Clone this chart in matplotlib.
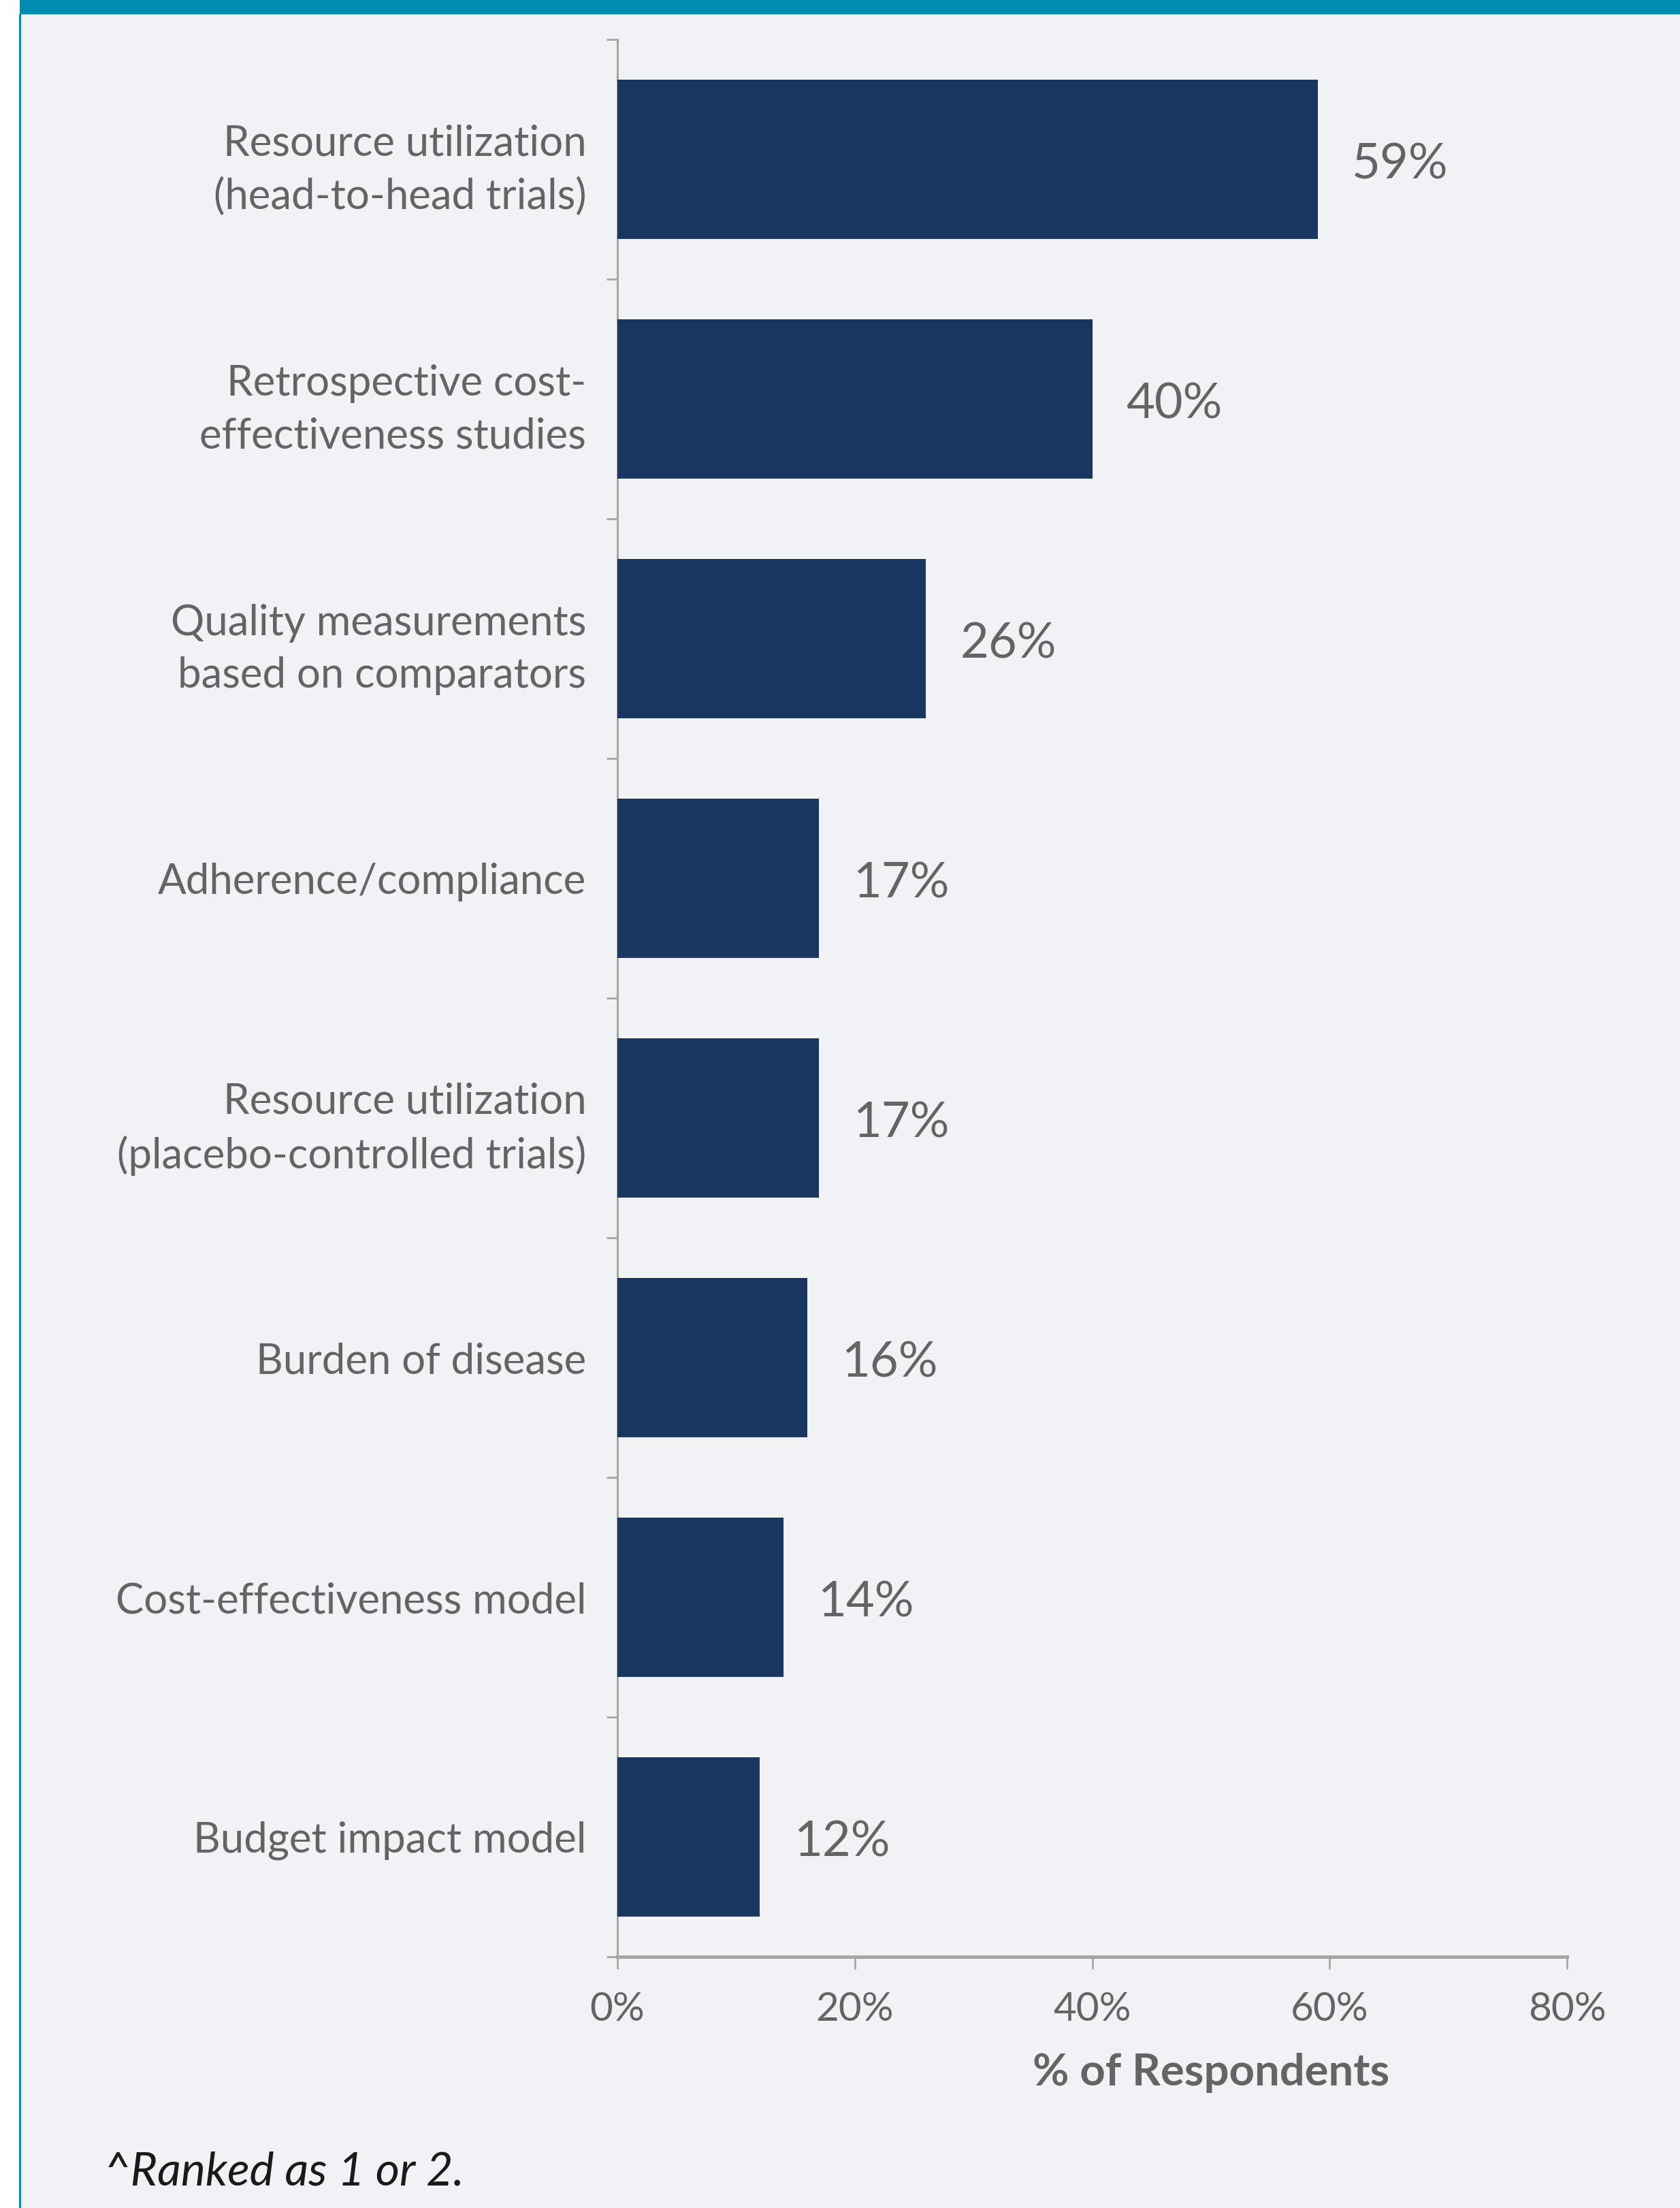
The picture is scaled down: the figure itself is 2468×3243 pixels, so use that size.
import matplotlib.pyplot as plt
from matplotlib.patches import Rectangle

categories = [
    "Resource utilization\n(head-to-head trials)",
    "Retrospective cost-\neffectiveness studies",
    "Quality measurements\nbased on comparators",
    "Adherence/compliance",
    "Resource utilization\n(placebo-controlled trials)",
    "Burden of disease",
    "Cost-effectiveness model",
    "Budget impact model",
]
values = [59, 40, 26, 17, 17, 16, 14, 12]
xticks = [0, 20, 40, 60, 80]

BAR = "#18365f"
GREY_TXT = "#646464"
SPINE = "#a6a6a6"
BG = "#f1f2f4"
TEAL = "#008cb0"

W, H = 2468, 3243
plt.rcParams.update({"font.family": ["Lato", "DejaVu Sans"]})

fig = plt.figure(figsize=(W / 100, H / 100), dpi=100, facecolor="white")

# panel background, left rule and top band
fig.patches.append(Rectangle((29 / W, 0), 1 - 29 / W, 1 - 21 / H, transform=fig.transFigure,
                             facecolor=BG, edgecolor="none", zorder=-2))
fig.patches.append(Rectangle((28 / W, 0), 3 / W, 1 - 21 / H, transform=fig.transFigure,
                             facecolor=TEAL, edgecolor="none", zorder=-1))
fig.patches.append(Rectangle((29 / W, 1 - 21 / H), 1 - 29 / W, 21 / H, transform=fig.transFigure,
                             facecolor=TEAL, edgecolor="none", zorder=-1))

ax = fig.add_axes([907 / W, 1 - 2874 / H, (2302 - 907) / W, (2874 - 58) / H])
ax.set_facecolor("none")
ax.set_zorder(5)

y = list(range(len(categories)))
ax.barh(y, values, height=0.665, color=BAR, zorder=3)
for yi, v in zip(y, values):
    ax.annotate(f"{v}%", (v, yi), xytext=(36, -6), textcoords="offset points",
                ha="left", va="center", fontsize=52, color=GREY_TXT)

ax.set_xlim(0, 80)
ax.set_ylim(len(categories) - 0.5, -0.5)

ax.set_yticks(y)
ax.set_yticklabels(categories, fontsize=44.5, color=GREY_TXT, linespacing=1.45)
ax.set_yticks([i - 0.5 for i in range(len(categories) + 1)], minor=True)
ax.tick_params(axis="y", which="major", length=0, pad=33)
ax.tick_params(axis="y", which="minor", length=11.5, width=2, color=SPINE, direction="out")

ax.set_xticks(xticks)
ax.set_xticklabels([f"{t}%" for t in xticks], fontsize=42, color=GREY_TXT)
ax.tick_params(axis="x", length=13, width=2, color=SPINE, direction="out", pad=24)

for s in ["top", "right"]:
    ax.spines[s].set_visible(False)
ax.spines["left"].set_color(SPINE)
ax.spines["left"].set_linewidth(2.2)
ax.spines["bottom"].set_color(SPINE)
ax.spines["bottom"].set_linewidth(3.6)

ax.text(0.625, -171 / 2816, "% of Respondents", transform=ax.transAxes, ha="center",
        va="center", fontsize=47, fontweight="bold", color=GREY_TXT)

fig.text(152 / W, 1 - 3210 / H, "^Ranked as 1 or 2.", ha="left", va="baseline",
         fontsize=49, fontstyle="italic", color="#1a1a1a")

fig.savefig("out.png", dpi=100, facecolor="white")
